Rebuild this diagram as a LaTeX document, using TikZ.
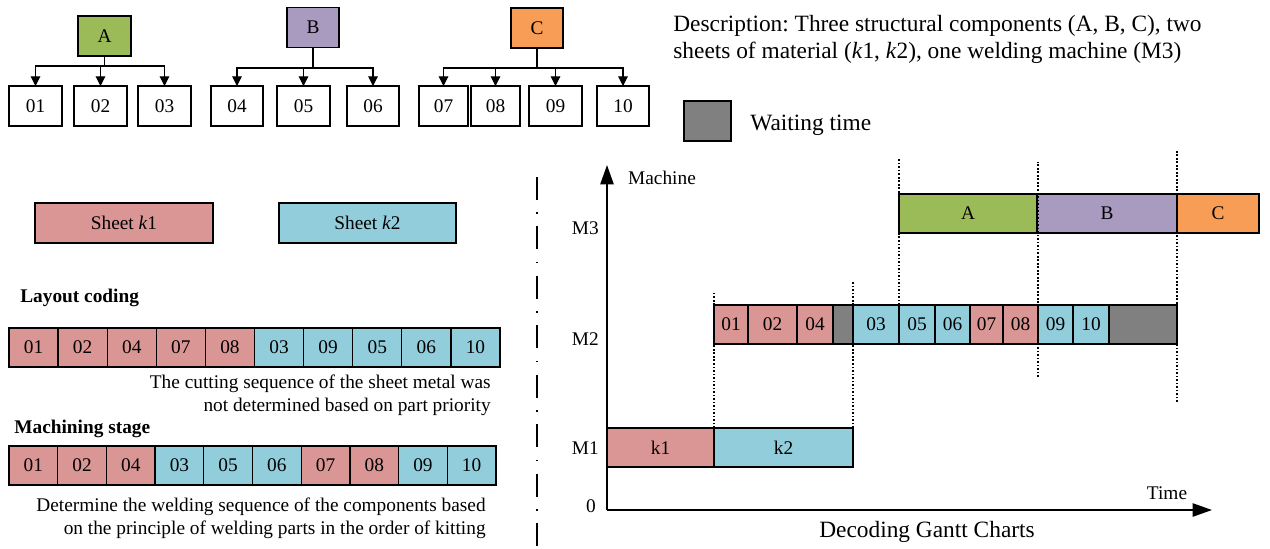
\documentclass[tikz,border=0pt]{standalone}
\usepackage{fontspec}
\setmainfont{Liberation Serif}
\usetikzlibrary{positioning,arrows.meta}
\frenchspacing

\definecolor{partA}{HTML}{9BBB59}
\definecolor{partB}{HTML}{A99BC0}
\definecolor{partC}{HTML}{F79D55}
\definecolor{sheetone}{HTML}{D99694}
\definecolor{sheettwo}{HTML}{92CDDC}
\definecolor{waitgray}{HTML}{808080}

\begin{document}
\begin{tikzpicture}[
    x=0.02cm, y=-0.02cm,
    font=\fontsize{11}{13}\selectfont,
    >={Triangle[length=5.5pt, width=5.5pt]},
    part/.style={draw, line width=0.6pt, inner sep=0pt, outer sep=0pt,
        minimum height=0.8cm, minimum width=#1*0.02cm},
    part/.default=52,
    gcell/.style={draw, line width=0.7pt, inner sep=0pt, outer sep=0pt,
        minimum height=0.78cm, minimum width=#1*0.02cm},
    pinkcell/.style={gcell=#1, fill=sheetone},
    bluecell/.style={gcell=#1, fill=sheettwo},
    waitcell/.style={gcell=#1, fill=waitgray},
    link/.style={line width=0.6pt},
    guide/.style={densely dotted, line width=1pt},
    axis/.style={line width=1.1pt, -{Triangle[length=11pt, width=7.5pt]}},
    bigtext/.style={font=\fontsize{13.3}{15.4}\selectfont}
]
    \useasboundingbox (0,0) rectangle (1270,548);

    % Components
    \node[part=53, fill=partA] (A) at (104.5,36) {A};
    \node[part, fill=partB] (B) at (313,27.5) {B};
    \node[part, fill=partC] (C) at (537,28) {C};
    % Parts
    \node[part=53] (p01) at (35.5,106) {01};
    \node[part=53] (p02) at (100.5,106) {02};
    \node[part=53] (p03) at (164.5,106) {03};
    \node[part] (p04) at (237,106) {04};
    \node[part=53] (p05) at (303.5,106) {05};
    \node[part] (p06) at (373,106) {06};
    \node[part=49] (p07) at (443.5,106) {07};
    \node[part=49] (p08) at (495.5,106) {08};
    \node[part=53] (p09) at (555.5,106) {09};
    \node[part] (p10) at (623,106) {10};
    % Tree connectors
    \coordinate (barA) at (104.5,66);
    \coordinate (barB) at (313,68);
    \coordinate (barC) at (537,68);
    \draw[link] (A) -- (barA);
    \draw[link, ->] (barA) -| (p01);
    \draw[link, ->] (barA) -| (p02);
    \draw[link, ->] (barA) -| (p03);
    \draw[link] (B) -- (barB);
    \draw[link, ->] (barB) -| (p04);
    \draw[link, ->] (barB) -| (p05);
    \draw[link, ->] (barB) -| (p06);
    \draw[link] (C) -- (barC);
    \draw[link, ->] (barC) -| (p07);
    \draw[link, ->] (barC) -| (p08);
    \draw[link, ->] (barC) -| (p09);
    \draw[link, ->] (barC) -| (p10);

    % Description and legend
    \node[bigtext, anchor=north west, align=left, inner sep=0pt] (desc) at (673,15)
        {Description: Three structural components (A, B, C), two\\
         sheets of material (\textit{k}1, \textit{k}2), one welding machine (M3)};
    \node[waitcell=47, minimum height=0.8cm] (wait) at (707.5,121) {};
    \node[bigtext, anchor=west, inner sep=0pt] (waitlabel) at (750,125) {Waiting time};

    % Sheets
    \node[pinkcell=178, minimum height=0.8cm] (sheet1) at (124,223) {Sheet \textit{k}1};
    \node[bluecell=177, minimum height=0.8cm] (sheet2) at (367.5,223) {Sheet \textit{k}2};

    % Layout coding
    \node[anchor=west, inner sep=0pt, font=\fontsize{11}{13}\selectfont\bfseries] (layout) at (20,298) {Layout coding};
    \node[pinkcell=49.1, anchor=north west] (L1) at (9,328) {01};
    \node[pinkcell=49.1, right=0pt of L1] (L2) {02};
    \node[pinkcell=49.1, right=0pt of L2] (L3) {04};
    \node[pinkcell=49.1, right=0pt of L3] (L4) {07};
    \node[pinkcell=49.1, right=0pt of L4] (L5) {08};
    \node[bluecell=49.1, right=0pt of L5] (L6) {03};
    \node[bluecell=49.1, right=0pt of L6] (L7) {09};
    \node[bluecell=49.1, right=0pt of L7] (L8) {05};
    \node[bluecell=49.1, right=0pt of L8] (L9) {06};
    \node[bluecell=49.1, right=0pt of L9] (L10) {10};
    \node[anchor=north east, align=right, inner sep=0pt] (layoutnote) at (491,375)
        {The cutting sequence of the sheet metal was\\not determined based on part priority};

    % Machining stage
    \node[anchor=west, inner sep=0pt, font=\fontsize{11}{13}\selectfont\bfseries] (machining) at (14,429) {Machining stage};
    \node[pinkcell=48.7, anchor=north west] (W1) at (9,446) {01};
    \node[pinkcell=48.7, right=0pt of W1] (W2) {02};
    \node[pinkcell=48.7, right=0pt of W2] (W3) {04};
    \node[bluecell=48.7, right=0pt of W3] (W4) {03};
    \node[bluecell=48.7, right=0pt of W4] (W5) {05};
    \node[bluecell=48.7, right=0pt of W5] (W6) {06};
    \node[pinkcell=48.7, right=0pt of W6] (W7) {07};
    \node[pinkcell=48.7, right=0pt of W7] (W8) {08};
    \node[bluecell=48.7, right=0pt of W8] (W9) {09};
    \node[bluecell=48.7, right=0pt of W9] (W10) {10};
    \node[anchor=north east, align=right, inner sep=0pt] (machiningnote) at (486,498)
        {Determine the welding sequence of the components based\\on the principle of welding parts in the order of kitting};

    % Divider
    \draw[line width=1.2pt, dash pattern=on 0.46cm off 0.25cm on 0.03cm off 0.25cm] (537,177) -- (537,548);

    % Gantt chart axes
    \coordinate (origin) at (607,510);
    \coordinate (ytop) at (607,165);
    \coordinate (xend) at (1212,510);
    \draw[axis] (origin) -- (ytop);
    \draw[axis] (origin) -- (xend);
    \node[anchor=west] (machine) at (622,178) {Machine};
    \node[anchor=east] (m3) at (605,228) {M3};
    \node[anchor=east] (m2) at (605,339) {M2};
    \node[anchor=east] (m1) at (605,448) {M1};
    \node (zero) at (591,506) {0};
    \node (time) at (1167,493) {Time};
    \node[bigtext] (title) at (927,532) {Decoding Gantt Charts};

    % M3 welding
    \node[gcell=138, fill=partA, anchor=north west] (gA) at (899,194) {A};
    \node[gcell=140, fill=partB, right=0pt of gA] (gB) {B};
    \node[gcell=82, fill=partC, right=0pt of gB] (gC) {C};
    % M2 machining
    \node[pinkcell=34, anchor=north west] (g01) at (714,305) {01};
    \node[pinkcell=49, right=0pt of g01] (g02) {02};
    \node[pinkcell=36, right=0pt of g02] (g04) {04};
    \node[waitcell=20, right=0pt of g04] (gw1) {};
    \node[bluecell=46, right=0pt of gw1] (g03) {03};
    \node[bluecell=36, right=0pt of g03] (g05) {05};
    \node[bluecell=35, right=0pt of g05] (g06) {06};
    \node[pinkcell=33, right=0pt of g06] (g07) {07};
    \node[pinkcell=35, right=0pt of g07] (g08) {08};
    \node[bluecell=35, right=0pt of g08] (g09) {09};
    \node[bluecell=36, right=0pt of g09] (g10) {10};
    \node[waitcell=68, right=0pt of g10] (gw2) {};
    % M1 cutting
    \node[pinkcell=107, anchor=north west] (k1) at (607,428) {k1};
    \node[bluecell=139, right=0pt of k1] (k2) {k2};

    % Guide lines
    \draw[guide] (k2.north west) -- ++(0,-135);
    \draw[guide] (k2.north east) -- ++(0,-147);
    \draw[guide] (g03.north east) -- ++(0,-147);
    \draw[guide] (g08.south east) ++(0,33) -- ++(0,-215);
    \draw[guide] (gw2.south east) ++(0,58) -- ++(0,-252);
\end{tikzpicture}
\end{document}
